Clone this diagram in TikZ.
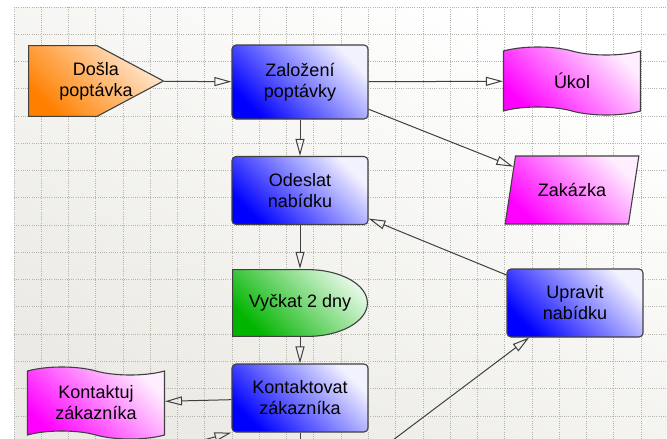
\documentclass[tikz,border=0pt]{standalone}
\usepackage{fontspec}
\setmainfont{Liberation Sans}
\usepackage{xcolor}
\usepackage{tikz}
\usetikzlibrary{arrows.meta}
\usetikzlibrary{calc}
\usetikzlibrary{shapes.geometric}
\usetikzlibrary{shapes.symbols}
\definecolor{edge}{HTML}{404040}
\definecolor{gridc}{HTML}{B4B4AC}
\definecolor{bgbot}{HTML}{EBEAE4}
\definecolor{lblue}{HTML}{F2F2FF}
\definecolor{lmag}{HTML}{FFEEFF}
\definecolor{dgreen}{HTML}{00B400}
\definecolor{lgreen}{HTML}{E4F8E4}
\definecolor{dorange}{HTML}{FF8000}
\definecolor{lorange}{HTML}{FFEAD6}
\newcommand\gridstep{27.27}
\newcommand\pp{path picture bounding box}
\tikzstyle{gridline}=[gridc,line width=1pt,dash pattern=on 1pt off 1.2pt]
\tikzstyle{unit}=[minimum width=136pt,minimum height=68pt,align=center,inner sep=0pt,
  font=\fontsize{18}{21}\selectfont]
\tikzstyle{edged}=[draw=edge,line width=1.1pt]
\tikzstyle{blueshade}=[top color=lblue,bottom color=blue,shading angle=-45]
\tikzstyle{magshade}=[top color=lmag,bottom color=magenta,shading angle=-45]
\tikzstyle{greenshade}=[top color=lgreen,bottom color=dgreen,shading angle=-45]
\tikzstyle{orangeshade}=[top color=lorange,bottom color=dorange,shading angle=-45]
\tikzstyle{proc}=[unit,edged,blueshade,rounded corners=4pt]
\tikzstyle{doc}=[unit,edged,magshade,tape,tape bend top=out and in,tape bend bottom=out and in,
  tape bend height=8pt,minimum width=137pt]
\tikzstyle{data}=[unit,edged,magshade,trapezium,trapezium left angle=65,trapezium right angle=115,
  trapezium stretches=true,minimum width=134pt]
\tikzstyle{delay}=[unit,path picture={
  \shade[edged,greenshade] ($(\pp.north west)+(.6pt,-.6pt)$) -- ++(74.8pt,0pt)
    arc[start angle=90,end angle=-90,x radius=60pt,y radius=33.4pt]
    -- ($(\pp.south west)+(.6pt,.6pt)$) -- cycle;}]
\tikzstyle{start}=[unit,minimum height=72pt,path picture={
  \shade[edged,orangeshade,line join=round] ($(\pp.north west)+(.6pt,-.6pt)$) -- ++(68.4pt,0pt)
    -- ($(\pp.east)+(-.6pt,0pt)$) -- ($(\pp.south west)+(69pt,.6pt)$)
    -- ($(\pp.south west)+(.6pt,.6pt)$) -- cycle;}]
\tikzstyle{arr}=[draw=edge,line width=1pt,-{Triangle[open,length=17pt,width=9pt]}]

\begin{document}
\begin{tikzpicture}[x=1pt,y=-1pt]
	\useasboundingbox (0,0) rectangle (667,439);
	\clip (0,0) rectangle (667,439);
	\fill[white] (0,0) rectangle (667,439);
	\shade[top color=white,bottom color=bgbot,shading angle=-30] (14,7) rectangle (667,439);
	\foreach \i in {0,...,24} \draw[gridline] ({14+\gridstep*\i},7) -- ({14+\gridstep*\i},439);
	\foreach \j in {0,...,16} \draw[gridline] (14,{7+\gridstep*\j}) -- (667,{7+\gridstep*\j});

	\node[start] (dosla) at (96,81) {Došla\\poptávka};
	\node[proc,minimum height=74pt] (zalozeni) at (300,82) {Založení\\poptávky};
	\node[proc] (odeslat) at (300,190.5) {Odeslat\\nabídku};
	\node[delay] (vyckat) at (300,303) {Vyčkat 2 dny};
	\node[proc] (kontaktovat) at (300,398) {Kontaktovat\\zákazníka};
	\node[doc] (ukol) at (572,81) {Úkol};
	\node[data] (zakazka) at (572,190) {Zakázka};
	\node[proc] (upravit) at (575,303) {Upravit\\nabídku};
	\node[doc,minimum height=72pt] (kontaktuj) at (96,403) {Kontaktuj\\zákazníka};
	% off-page ends
	\coordinate (dal) at (300,480);
	\coordinate (zleva) at (60,478);
	\coordinate (zdola) at (300,510);

	\draw[arr] (dosla) -- (zalozeni);
	\draw[arr] (zalozeni) -- (ukol);
	\draw[arr] (zalozeni) -- (zakazka);
	\draw[arr] (zalozeni) -- (odeslat);
	\draw[arr] (odeslat) -- (vyckat);
	\draw[arr] (vyckat) -- (kontaktovat);
	\draw[arr] (upravit) -- (odeslat);
	\draw[arr] (kontaktovat) -- (kontaktuj);
	\draw[arr] (zdola) -- (upravit);
	\draw[arr] (zleva) -- (kontaktovat.south west);
	\draw[draw=edge,line width=1pt] (kontaktovat) -- (dal);
\end{tikzpicture}
\end{document}
